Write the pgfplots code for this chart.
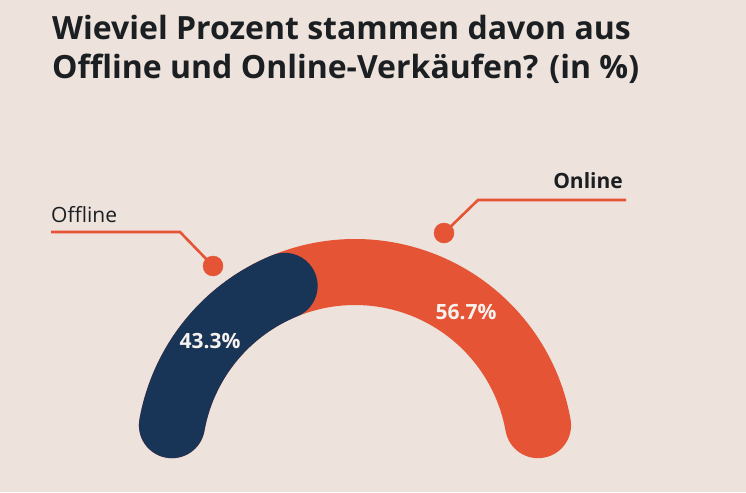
\documentclass[border=0pt]{standalone}
\usepackage{pgfplots}
\pgfplotsset{compat=1.18}
\usepackage{pgfplotstable}
\usepackage{fontspec}
\setmainfont{Open Sans}
\definecolor{bg}{RGB}{237,226,220}
\definecolor{gaugeorange}{RGB}{229,84,52}
\definecolor{gaugenavy}{RGB}{24,52,87}
\definecolor{titleink}{RGB}{27,31,34}
\definecolor{labelwhite}{RGB}{248,242,238}

\pgfplotstableread{
label value
Offline 43.3
Online 56.7
}\datatable
\pgfplotstablegetelem{0}{value}\of\datatable \let\vOff\pgfplotsretval
\pgfplotstablegetelem{1}{value}\of\datatable \let\vOn\pgfplotsretval
% gauge geometry (pixels): centre (355,458), mid radius 186, thickness 66
\pgfmathsetmacro\capP{33/186*180/pi/1.8}
\pgfmathsetmacro\dEnd{\vOff-\capP}
\pgfmathsetmacro\oEnd{\vOff+\vOn-\capP}

\begin{document}
\begin{tikzpicture}[x=1pt,y=1pt]
\fill[bg] (0,0) rectangle (746,492);
\begin{axis}[at={(0,0)}, anchor=south west,
  width=746pt, height=492pt, scale only axis,
  xmin=0, xmax=746, ymin=0, ymax=492, y dir=reverse,
  axis lines=none, xtick=\empty, ytick=\empty, clip=false]
% orange (full, underneath)
\addplot[gaugeorange, line width=66pt, line cap=round, domain=\capP:\oEnd, samples=150, variable=\t]
  ({355+186*cos(180-1.8*\t)},{458-186*sin(180-1.8*\t)});
% navy (Offline)
\addplot[gaugenavy, line width=66pt, line cap=round, domain=\capP:\dEnd, samples=80, variable=\t]
  ({355+186*cos(180-1.8*\t)},{458-186*sin(180-1.8*\t)});
% leader lines
\addplot[gaugeorange, line width=2.6pt] coordinates {(51,232) (180,232) (213,266)};
\addplot[gaugeorange, line width=2.6pt] coordinates {(444,233) (478,200) (626,200)};
\addplot[only marks, mark=*, mark size=10pt, mark options={draw=gaugeorange, fill=gaugeorange}] coordinates {(213,266) (444,233)};
% texts
\node[anchor=base west, text=titleink, inner sep=0pt, font=\fontsize{32}{38}\selectfont\bfseries] at (axis cs:52,40) {Wieviel Prozent stammen davon aus};
\node[anchor=base west, text=titleink, inner sep=0pt, font=\fontsize{32}{38}\selectfont\bfseries] at (axis cs:52,79) {Offline und Online-Verkäufen? (in \%)};
\node[anchor=base west, text=titleink, inner sep=0pt, font=\fontsize{21}{25}\selectfont] at (axis cs:51,222) {Offline};
\node[anchor=base east, text=titleink, inner sep=0pt, font=\fontsize{21}{25}\selectfont\bfseries] at (axis cs:623,189) {Online};
\node[text=labelwhite, inner sep=0pt, font=\fontsize{21}{25}\selectfont\bfseries] at (axis cs:210,341) {\vOff\%};
\node[text=labelwhite, inner sep=0pt, font=\fontsize{21}{25}\selectfont\bfseries] at (axis cs:466,312) {\vOn\%};
\end{axis}
\end{tikzpicture}
\end{document}
